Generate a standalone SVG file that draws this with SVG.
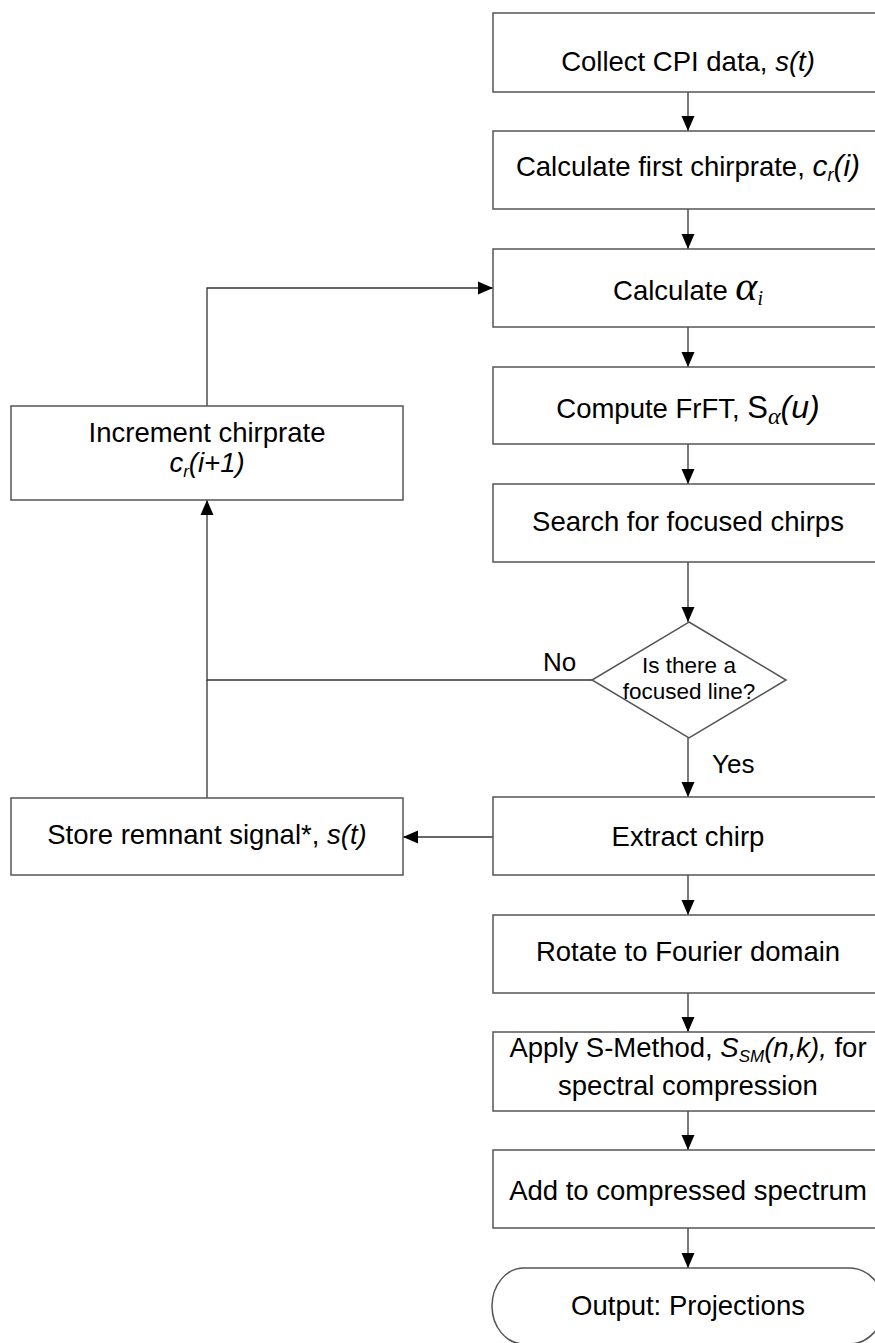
<svg xmlns="http://www.w3.org/2000/svg" width="875" height="1343" viewBox="0 0 875 1343">
<style>
.box{fill:#fff;stroke:#555;stroke-width:1.5}
.ln{fill:none;stroke:#333;stroke-width:1.3}
.t{font-family:"Liberation Sans",Arial,sans-serif;font-size:27.5px;fill:#000;text-anchor:middle}
.d{font-family:"Liberation Sans",Arial,sans-serif;font-size:22.5px;fill:#000;text-anchor:middle}
.lb{font-family:"Liberation Sans",Arial,sans-serif;font-size:26px;fill:#000}
.i{font-style:italic}
.m{font-family:"Liberation Serif","Times New Roman",serif;font-style:italic}
</style>
<defs>
<marker id="ah" markerUnits="userSpaceOnUse" markerWidth="16" markerHeight="16" viewBox="0 0 16 16" refX="15" refY="8" orient="auto">
<path d="M0,1.5 L15,8 L0,14.5 Z" fill="#000"/>
</marker>
</defs>
<rect width="875" height="1343" fill="#fff"/>
<g id="connectors">
<line class="ln" x1="688" y1="92" x2="688" y2="131" marker-end="url(#ah)"/>
<line class="ln" x1="688" y1="209" x2="688" y2="249" marker-end="url(#ah)"/>
<line class="ln" x1="688" y1="327" x2="688" y2="367" marker-end="url(#ah)"/>
<line class="ln" x1="688" y1="444" x2="688" y2="484" marker-end="url(#ah)"/>
<line class="ln" x1="688" y1="562" x2="688" y2="622" marker-end="url(#ah)"/>
<line class="ln" x1="688" y1="738" x2="688" y2="797" marker-end="url(#ah)"/>
<path class="ln" d="M592,680 H207 V500" marker-end="url(#ah)"/>
<line class="ln" x1="207" y1="798" x2="207" y2="680"/>
<path class="ln" d="M207,406 V288 H493" marker-end="url(#ah)"/>
<line class="ln" x1="493" y1="837" x2="403" y2="837" marker-end="url(#ah)"/>
<line class="ln" x1="688" y1="875" x2="688" y2="915" marker-end="url(#ah)"/>
<line class="ln" x1="688" y1="993" x2="688" y2="1032" marker-end="url(#ah)"/>
<line class="ln" x1="688" y1="1111" x2="688" y2="1150" marker-end="url(#ah)"/>
<line class="ln" x1="688" y1="1228" x2="688" y2="1268" marker-end="url(#ah)"/>
<text class="lb" x="543" y="671">No</text>
<text class="lb" x="712" y="773">Yes</text>
</g>
<g id="collect">
<rect class="box" x="493" y="13" width="392" height="79"/>
<text class="t" x="688" y="71">Collect CPI data, <tspan class="i">s(t)</tspan></text>
</g>
<g id="first-chirprate">
<rect class="box" x="493" y="131" width="392" height="78"/>
<text class="t" x="688" y="176">Calculate first chirprate, <tspan class="i" font-size="30">c</tspan><tspan class="i" font-size="18" dy="5">r</tspan><tspan class="i" font-size="30" dy="-5">(i)</tspan></text>
</g>
<g id="calc-alpha">
<rect class="box" x="493" y="249" width="392" height="78"/>
<text class="t" x="688" y="300">Calculate <tspan class="m" font-size="42">α</tspan><tspan class="m" font-size="20" dy="5">i</tspan></text>
</g>
<g id="frft">
<rect class="box" x="493" y="367" width="392" height="77"/>
<text class="t" x="688" y="418">Compute FrFT, <tspan font-size="31">S</tspan><tspan class="m" font-size="24" dy="6">α</tspan><tspan class="i" font-size="32" dy="-6">(u)</tspan></text>
</g>
<g id="search">
<rect class="box" x="493" y="484" width="392" height="78"/>
<text class="t" x="688" y="531">Search for focused chirps</text>
</g>
<g id="decision">
<polygon class="box" points="689,622 786,680 689,738 592,680"/>
<text class="d" x="689" y="673">Is there a</text>
<text class="d" x="689" y="699">focused line?</text>
</g>
<g id="increment">
<rect class="box" x="11" y="406" width="392" height="94"/>
<text class="t" x="207" y="442">Increment chirprate</text>
<text class="t" x="207" y="472"><tspan class="i">c</tspan><tspan class="i" font-size="17" dy="5">r</tspan><tspan class="i" dy="-5">(i+1)</tspan></text>
</g>
<g id="extract">
<rect class="box" x="493" y="797" width="392" height="78"/>
<text class="t" x="688" y="846">Extract chirp</text>
</g>
<g id="store">
<rect class="box" x="11" y="798" width="392" height="77"/>
<text class="t" x="207" y="844">Store remnant signal*, <tspan class="i">s(t)</tspan></text>
</g>
<g id="rotate">
<rect class="box" x="493" y="915" width="392" height="78"/>
<text class="t" x="688" y="961">Rotate to Fourier domain</text>
</g>
<g id="smethod">
<rect class="box" x="493" y="1032" width="392" height="79"/>
<text class="t" x="688" y="1057">Apply S-Method, <tspan class="i">S</tspan><tspan class="i" font-size="17" dy="5">SM</tspan><tspan class="i" dy="-5">(n,k),</tspan> for</text>
<text class="t" x="688" y="1095">spectral compression</text>
</g>
<g id="add">
<rect class="box" x="493" y="1150" width="392" height="78"/>
<text class="t" x="688" y="1200">Add to compressed spectrum</text>
</g>
<g id="output">
<path class="box" d="M524,1268 H849 A35,38 0 0 1 849,1344 H524 A32,38 0 0 1 524,1268 Z"/>
<text class="t" x="688" y="1315">Output: Projections</text>
</g>
</svg>
